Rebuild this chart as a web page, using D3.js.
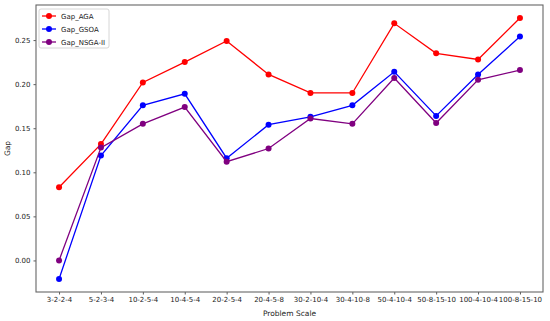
<!DOCTYPE html>
<html>
<head>
<meta charset="utf-8">
<script src="https://cdn.jsdelivr.net/npm/d3@7"></script>
<style>
  body { margin: 0; background: #fff; }
  svg { display: block; font-family: "DejaVu Sans", sans-serif; }
</style>
</head>
<body>
<div id="chart"></div>
<script>
// categories (problem scales)
var scales = ["3-2-2-4", "5-2-3-4", "10-2-5-4", "10-4-5-4", "20-2-5-4", "20-4-5-8",
              "30-2-10-4", "30-4-10-8", "50-4-10-4", "50-8-15-10", "100-4-10-4", "100-8-15-10"];

// series values
var gapAGA   = [0.083, 0.132, 0.202, 0.225, 0.249, 0.211, 0.190, 0.190, 0.269, 0.235, 0.228, 0.275];
var gapGSOA  = [-0.021, 0.119, 0.176, 0.189, 0.116, 0.154, 0.163, 0.176, 0.214, 0.164, 0.211, 0.254];
var gapNSGA  = [0.000, 0.128, 0.155, 0.174, 0.112, 0.127, 0.161, 0.155, 0.207, 0.156, 0.205, 0.216];

var yTicks = [0.00, 0.05, 0.10, 0.15, 0.20, 0.25];

var series = [
  {name: "Gap_AGA", values: gapAGA, color: "#ff0000"},
  {name: "Gap_GSOA", values: gapGSOA, color: "#0000ff"},
  {name: "Gap_NSGA-II", values: gapNSGA, color: "#800080"}
];

var W = 550, H = 321;
var margin = {top: 5, right: 7, bottom: 29, left: 36};
var width = W - margin.left - margin.right,
    height = H - margin.top - margin.bottom;

var svg = d3.select("#chart").append("svg")
    .attr("width", W)
    .attr("height", H);

var g = svg.append("g")
    .attr("transform", "translate(" + margin.left + "," + margin.top + ")");

// matplotlib-like 5% margins
var x = d3.scaleLinear().domain([-0.55, scales.length - 1 + 0.55]).range([0, width]);
var y = d3.scaleLinear().domain([-0.0358, 0.2898]).range([height, 0]);

// x axis
var xAxis = g.append("g")
    .attr("transform", "translate(0," + height + ")")
    .call(d3.axisBottom(x)
      .tickValues(d3.range(scales.length))
      .tickFormat(function(i) { return scales[i]; })
      .tickSize(2.5).tickPadding(3));

// y axis
var yAxis = g.append("g")
    .call(d3.axisLeft(y)
      .tickValues(yTicks)
      .tickFormat(d3.format(".2f"))
      .tickSize(2.5).tickPadding(3));

[xAxis, yAxis].forEach(function(a) {
  a.select(".domain").remove();
  a.selectAll(".tick line").attr("stroke", "#333").attr("stroke-width", 0.8);
  a.selectAll(".tick text").attr("fill", "#222").attr("font-size", "7px")
    .attr("font-family", "DejaVu Sans, sans-serif");
});

// frame
g.append("rect")
    .attr("x", 0).attr("y", 0)
    .attr("width", width).attr("height", height)
    .attr("fill", "none")
    .attr("stroke", "#666")
    .attr("stroke-width", 1.1);

// lines
var line = d3.line()
    .x(function(d, i) { return x(i); })
    .y(function(d) { return y(d); });

series.forEach(function(s) {
  g.append("path")
      .datum(s.values)
      .attr("fill", "none")
      .attr("stroke", s.color)
      .attr("stroke-width", 1.3)
      .attr("d", line);

  g.selectAll(null)
      .data(s.values)
    .enter().append("circle")
      .attr("cx", function(d, i) { return x(i); })
      .attr("cy", function(d) { return y(d); })
      .attr("r", 3)
      .attr("fill", s.color);
});

// axis labels
svg.append("text")
    .attr("x", margin.left + width / 2)
    .attr("y", H - 5)
    .attr("text-anchor", "middle")
    .attr("font-size", "7.5px")
    .attr("fill", "#222")
    .text("Problem Scale");

svg.append("text")
    .attr("transform", "translate(10," + (margin.top + height / 2) + ")rotate(-90)")
    .attr("text-anchor", "middle")
    .attr("font-size", "7.5px")
    .attr("fill", "#222")
    .text("Gap");

// legend
var legend = g.append("g").attr("transform", "translate(3,4)");
legend.append("rect")
    .attr("width", 70).attr("height", 39)
    .attr("rx", 2)
    .attr("fill", "#fff")
    .attr("stroke", "#ccc")
    .attr("stroke-width", 0.8);

series.forEach(function(s, i) {
  var ly = 7 + i * 13;
  legend.append("line")
      .attr("x1", 3).attr("x2", 17)
      .attr("y1", ly).attr("y2", ly)
      .attr("stroke", s.color).attr("stroke-width", 1.3);
  legend.append("circle")
      .attr("cx", 10).attr("cy", ly).attr("r", 3)
      .attr("fill", s.color);
  legend.append("text")
      .attr("x", 22).attr("y", ly + 2.5)
      .attr("font-size", "7px")
      .attr("fill", "#222")
      .text(s.name);
});
</script>
</body>
</html>
